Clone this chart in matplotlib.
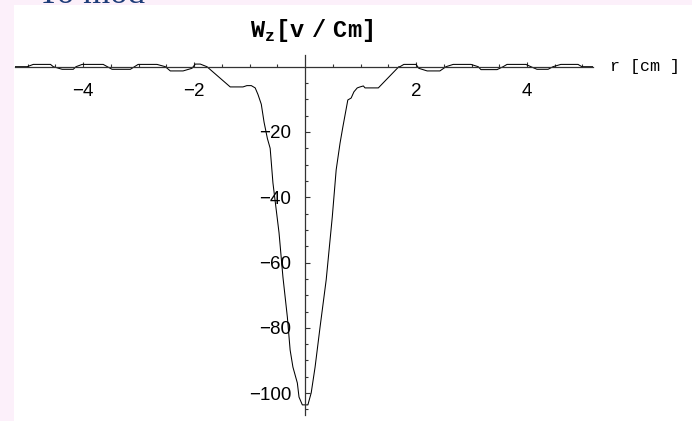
import matplotlib
matplotlib.use("Agg")
import matplotlib.pyplot as plt
from matplotlib.patches import Rectangle

# field profile: r in cm, Wz in v/cm
r = [-5.23, -5.01, -4.90, -4.59, -4.54, -4.38, -4.18, -4.13, -4.02, -3.64,
     -3.48, -3.15, -3.01, -2.67, -2.52, -2.43, -2.20, -2.04, -1.98, -1.89,
     -1.77, -1.35, -1.12, -1.05, -0.97, -0.90, -0.85, -0.79, -0.74, -0.68,
     -0.63, -0.58, -0.47, -0.40, -0.32, -0.27, -0.22, -0.14, -0.11, -0.05,
     0.05, 0.11, 0.18, 0.27, 0.38, 0.49, 0.56, 0.63, 0.68, 0.77,
     0.83, 0.88, 0.94, 0.99, 1.05, 1.08, 1.32, 1.69, 1.71, 1.78,
     2.00, 2.05, 2.20, 2.43, 2.54, 2.67, 2.99, 3.12, 3.17, 3.46,
     3.57, 3.64, 3.98, 4.07, 4.18, 4.38, 4.47, 4.61, 4.92, 4.99, 5.19]
wz = [0.0, 0.0, 0.7, 0.7, 0.0, -0.8, -0.8, 0.0, 0.7, 0.7,
      -0.8, -0.8, 0.7, 0.7, 0.0, -1.3, -1.3, -0.5, 0.8, 0.8,
      0.0, -6.2, -6.2, -5.8, -5.8, -6.5, -8.5, -11.5, -17.0, -22.0,
      -25.0, -35.6, -50.9, -64.4, -76.7, -86.8, -92.0, -96.9, -101.2, -103.6,
      -103.6, -99.9, -92.0, -79.7, -65.3, -46.0, -31.6, -23.4, -18.5, -10.2,
      -9.6, -7.7, -6.5, -6.2, -5.9, -6.5, -6.5, 0.0, 0.0, 0.7,
      0.7, -0.5, -1.3, -1.3, 0.0, 0.7, 0.7, 0.0, -0.9, -0.9,
      0.0, 0.7, 0.7, 0.0, -0.8, -0.8, 0.0, 0.7, 0.7, 0.0, 0.0]

xticks = [-4, -2, 2, 4]
yticks = [-100, -80, -60, -40, -20]

W, H = 692, 421
fig = plt.figure(figsize=(W / 100, H / 100), dpi=100)
fig.patch.set_facecolor('#fcf0fa')
fig.patches.append(Rectangle((14 / W, 0), 1, 1 - 5 / H, transform=fig.transFigure,
                             facecolor='white', edgecolor='none', zorder=-10))
# slide title cut off at the top
fig.text(38 / W, 1 - 3 / H, 'To mod', family='Liberation Serif', fontsize=25,
         color='#1d3c78', va='baseline', ha='left')

ax = fig.add_axes([15 / W, 6 / H, 578 / W, 360 / H])
ax.set_facecolor('none')
ax.plot(r, wz, color='black', lw=0.75)
ax.set_xlim(-5.23, 5.19)
ax.set_ylim(-106.7, 3.58)

axis_col = '#333333'
for side in ['top', 'right']:
    ax.spines[side].set_visible(False)
ax.spines['left'].set_position(('data', 0))
ax.spines['bottom'].set_position(('data', 0))
for side in ['left', 'bottom']:
    ax.spines[side].set_color(axis_col)
    ax.spines[side].set_linewidth(0.9)

ax.set_xticks(xticks)
ax.set_xticks([i * 0.5 for i in range(-10, 11) if i % 4 != 0], minor=True)
ax.set_yticks(yticks)
ax.set_yticks([-5 * i for i in range(1, 22) if i % 4 != 0], minor=True)
ax.tick_params(which='both', direction='in', color=axis_col, width=0.8,
               labelsize=13.5, labelcolor='black')
ax.tick_params(which='major', length=3.5)
ax.tick_params(which='minor', length=2.5)
ax.tick_params(axis='x', pad=12)
ax.tick_params(axis='y', pad=10)
for lab in ax.get_xticklabels() + ax.get_yticklabels():
    lab.set_family('Liberation Sans')

ax.text(1.03, 0, 'r [cm ]', transform=ax.get_yaxis_transform(), family='Liberation Mono',
        fontsize=12, va='center', ha='left')
plt.rcParams['mathtext.fontset'] = 'custom'
plt.rcParams['mathtext.bf'] = 'Liberation Mono:bold'
plt.rcParams['mathtext.rm'] = 'Liberation Mono:bold'
fig.text(312 / W, 1 - 37 / H, r'$\mathbf{W}_{\mathbf{z}}\mathbf{[v\ /\ Cm]}$',
         fontsize=17, ha='center', va='baseline')

fig.savefig('out.png', dpi=100)
